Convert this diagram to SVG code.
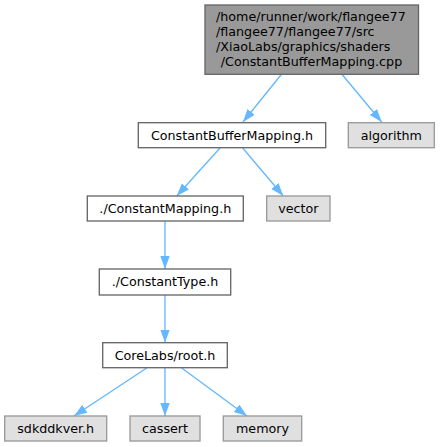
<svg xmlns="http://www.w3.org/2000/svg" width="440" height="447" viewBox="0 0 440 447">
<style>
text{font-family:"DejaVu Sans",sans-serif;font-size:12.7px;fill:#000}
.c{text-anchor:middle}
.doc{fill:#ffffff;stroke:#666666;stroke-width:1.33}
.ext{fill:#e0e0e0;stroke:#999999;stroke-width:1.33}
.main{fill:#999999;stroke:#666666;stroke-width:1.33}
.e{stroke:#63b8ff;stroke-width:1.33;fill:none;marker-end:url(#ah)}
</style>
<defs>
<marker id="ah" markerUnits="userSpaceOnUse" markerWidth="14" markerHeight="10" refX="13" refY="4.7" orient="auto">
<path d="M0,0 L13,4.7 L0,9.4 z" fill="#63b8ff"/>
</marker>
</defs>
<rect width="440" height="447" fill="#ffffff"/>
<g id="connectors">
<line class="e" x1="281.7" y1="74" x2="243" y2="122"/>
<line class="e" x1="341.7" y1="74" x2="381.7" y2="122"/>
<line class="e" x1="220" y1="148" x2="176.7" y2="196"/>
<line class="e" x1="242.7" y1="148" x2="283.3" y2="196"/>
<line class="e" x1="165" y1="221" x2="165" y2="269"/>
<line class="e" x1="165" y1="295" x2="165" y2="342.7"/>
<line class="e" x1="146.7" y1="368" x2="74" y2="416"/>
<line class="e" x1="165" y1="368" x2="165" y2="416"/>
<line class="e" x1="181.7" y1="368" x2="247" y2="416"/>
</g>
<g id="node1">
<rect class="main" x="205" y="5" width="213.5" height="69.3"/>
<text x="216" y="20.5">/home/runner/work/flangee77</text>
<text x="216" y="35.5">/flangee77/flangee77/src</text>
<text x="216" y="50.5">/XiaoLabs/graphics/shaders</text>
<text class="c" x="311.5" y="65.5">/ConstantBufferMapping.cpp</text>
</g>
<g id="node2">
<rect class="doc" x="138.3" y="122.7" width="187.4" height="25"/>
<text class="c" x="232" y="139.5">ConstantBufferMapping.h</text>
</g>
<g id="node3">
<rect class="ext" x="348.3" y="122.7" width="86" height="25"/>
<text class="c" x="391.3" y="139.5">algorithm</text>
</g>
<g id="node4">
<rect class="doc" x="87.3" y="196" width="156" height="25"/>
<text class="c" x="165.3" y="212.8">./ConstantMapping.h</text>
</g>
<g id="node5">
<rect class="ext" x="266.7" y="196" width="63.3" height="25"/>
<text class="c" x="298.4" y="212.8">vector</text>
</g>
<g id="node6">
<rect class="doc" x="99.3" y="269" width="131.4" height="26"/>
<text class="c" x="165" y="286.3">./ConstantType.h</text>
</g>
<g id="node7">
<rect class="doc" x="102.7" y="342.7" width="124.6" height="25"/>
<text class="c" x="165" y="359.5">CoreLabs/root.h</text>
</g>
<g id="node8">
<rect class="ext" x="4.7" y="416" width="102" height="25"/>
<text class="c" x="55.7" y="432.8">sdkddkver.h</text>
</g>
<g id="node9">
<rect class="ext" x="130" y="416" width="70" height="25"/>
<text class="c" x="165" y="432.8">cassert</text>
</g>
<g id="node10">
<rect class="ext" x="223.3" y="416" width="78.4" height="25"/>
<text class="c" x="262.5" y="432.8">memory</text>
</g>
</svg>
